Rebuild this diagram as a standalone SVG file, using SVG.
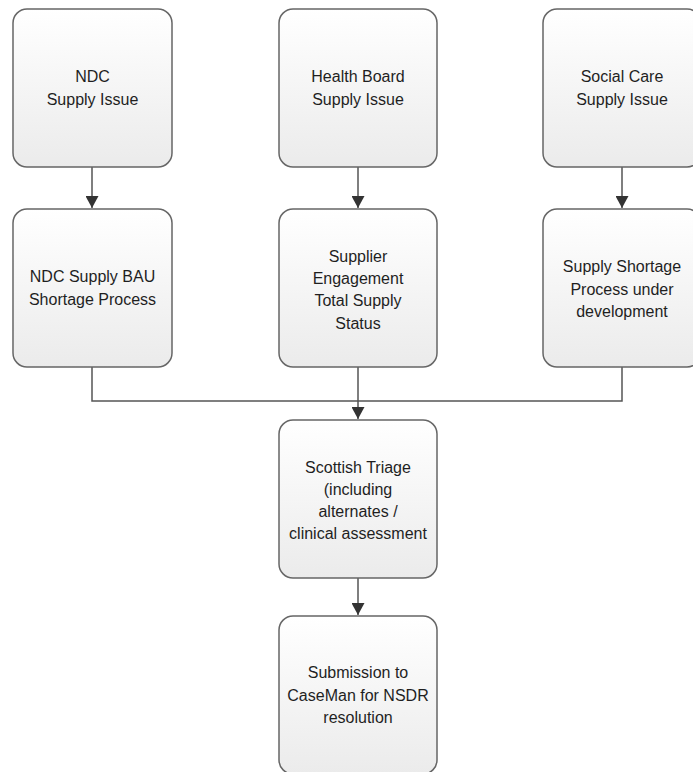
<svg xmlns="http://www.w3.org/2000/svg" width="693" height="772" viewBox="0 0 693 772">
<defs>
<linearGradient id="g" x1="0" y1="0" x2="0" y2="1">
<stop offset="0" stop-color="#ffffff"/>
<stop offset="1" stop-color="#ebebeb"/>
</linearGradient>
<marker id="arr" markerWidth="12" markerHeight="13" refX="12" refY="6.5" orient="auto" markerUnits="userSpaceOnUse" viewBox="0 0 12 13">
<path d="M0,0 L12,6.5 L0,13 Z" fill="#333"/>
</marker>
<style>
.box{fill:url(#g);stroke:#666;stroke-width:1.5}
.t{font-family:"Liberation Sans",Arial,sans-serif;font-size:16px;fill:#1f1f1f;text-anchor:middle}
.c{fill:none;stroke:#555;stroke-width:1.5}
</style>
</defs>
<rect width="693" height="772" fill="#fff"/>
<g id="connectors">
<line class="c" x1="92" y1="167" x2="92" y2="208" marker-end="url(#arr)"/>
<line class="c" x1="358" y1="167" x2="358" y2="208" marker-end="url(#arr)"/>
<line class="c" x1="622" y1="167" x2="622" y2="208" marker-end="url(#arr)"/>
<polyline class="c" points="92,367 92,401 622,401 622,367"/>
<line class="c" x1="358" y1="367" x2="358" y2="419" marker-end="url(#arr)"/>
<line class="c" x1="358" y1="578" x2="358" y2="615" marker-end="url(#arr)"/>
</g>
<g id="ndc-issue">
<rect class="box" x="13" y="9" width="159" height="158" rx="14"/>
<text class="t" x="92.5" y="82">NDC</text>
<text class="t" x="92.5" y="105">Supply Issue</text>
</g>
<g id="hb-issue">
<rect class="box" x="279" y="9" width="158" height="158" rx="14"/>
<text class="t" x="358" y="82">Health Board</text>
<text class="t" x="358" y="105">Supply Issue</text>
</g>
<g id="sc-issue">
<rect class="box" x="543" y="9" width="158" height="158" rx="14"/>
<text class="t" x="622" y="82">Social Care</text>
<text class="t" x="622" y="105">Supply Issue</text>
</g>
<g id="ndc-bau">
<rect class="box" x="13" y="209" width="159" height="158" rx="14"/>
<text class="t" x="92.5" y="282">NDC Supply BAU</text>
<text class="t" x="92.5" y="305">Shortage Process</text>
</g>
<g id="supplier">
<rect class="box" x="279" y="209" width="158" height="158" rx="14"/>
<text class="t" x="358" y="262">Supplier</text>
<text class="t" x="358" y="284">Engagement</text>
<text class="t" x="358" y="306">Total Supply</text>
<text class="t" x="358" y="329">Status</text>
</g>
<g id="sc-process">
<rect class="box" x="543" y="209" width="158" height="158" rx="14"/>
<text class="t" x="622" y="272">Supply Shortage</text>
<text class="t" x="622" y="295">Process under</text>
<text class="t" x="622" y="317">development</text>
</g>
<g id="triage">
<rect class="box" x="279" y="420" width="158" height="158" rx="14"/>
<text class="t" x="358" y="473">Scottish Triage</text>
<text class="t" x="358" y="495">(including</text>
<text class="t" x="358" y="517">alternates /</text>
<text class="t" x="358" y="539">clinical assessment</text>
</g>
<g id="submission">
<rect class="box" x="279" y="616" width="158" height="158" rx="14"/>
<text class="t" x="358" y="678">Submission to</text>
<text class="t" x="358" y="701">CaseMan for NSDR</text>
<text class="t" x="358" y="723">resolution</text>
</g>
</svg>
